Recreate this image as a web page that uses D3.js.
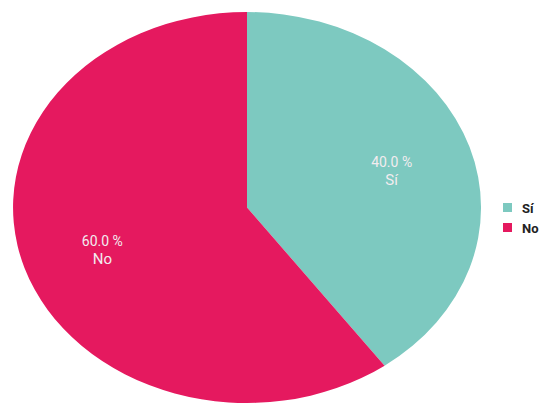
<!DOCTYPE html>
<html>
<head>
<meta charset="utf-8">
<script src="https://cdn.jsdelivr.net/npm/d3@7.9.0/dist/d3.min.js"></script>
<style>
  body { margin: 0; background: #fff; }
  text { font-family: Roboto, "Liberation Sans", sans-serif; }
</style>
</head>
<body>
<div id="chart"></div>
<script>
// Data
const categories = ["Sí", "No"];
const percents = [40.0, 60.0];
const colors = ["#7dc9c0", "#e5195f"];

const width = 547, height = 405;
const cx = 247, cy = 207.5;
const rx = 234, ry = 195.5;

const svg = d3.select("#chart")
  .append("svg")
    .attr("width", width)
    .attr("height", height);

const data = categories.map((c, i) => ({ cat: c, value: percents[i], color: colors[i] }));

const pie = d3.pie()
  .sort(null)
  .value(d => d.value);

const arcs = pie(data);

// unit circle arcs, stretched into an ellipse
const arc = d3.arc().innerRadius(0).outerRadius(1);
const labelArc = d3.arc().innerRadius(0.65).outerRadius(0.65);

const g = svg.append("g")
  .attr("transform", `translate(${cx},${cy})`);

g.append("g")
  .attr("transform", `scale(${rx},${ry})`)
  .selectAll("path")
  .data(arcs)
  .join("path")
    .attr("d", arc)
    .attr("fill", d => d.data.color);

// Slice labels: percent on top, category below
const labelPos = d => {
  const [x, y] = labelArc.centroid(d);
  return [x * rx, y * ry];
};

g.selectAll(".slice-pct")
  .data(arcs)
  .join("text")
    .attr("class", "slice-pct")
    .attr("x", d => labelPos(d)[0])
    .attr("y", d => labelPos(d)[1] - 1)
    .attr("text-anchor", "middle")
    .style("font-size", "14px")
    .style("fill", "#f2ecef")
    .text(d => d.data.value.toFixed(1) + " %");

g.selectAll(".slice-cat")
  .data(arcs)
  .join("text")
    .attr("class", "slice-cat")
    .attr("x", d => labelPos(d)[0])
    .attr("y", d => labelPos(d)[1] + 17)
    .attr("text-anchor", "middle")
    .style("font-size", "15px")
    .style("fill", "#f2ecef")
    .text(d => d.data.cat);

// Legend
const legend = svg.append("g")
  .attr("transform", "translate(503,203)");

const item = legend.selectAll("g")
  .data(data)
  .join("g")
    .attr("transform", (d, i) => `translate(0,${i * 20})`);

item.append("rect")
  .attr("width", 9)
  .attr("height", 9)
  .attr("fill", d => d.color);

item.append("text")
  .attr("x", 19)
  .attr("y", 5)
  .attr("dy", "0.35em")
  .style("font-size", "13px")
  .style("font-weight", "bold")
  .style("fill", "#222")
  .text(d => d.cat);
</script>
</body>
</html>
